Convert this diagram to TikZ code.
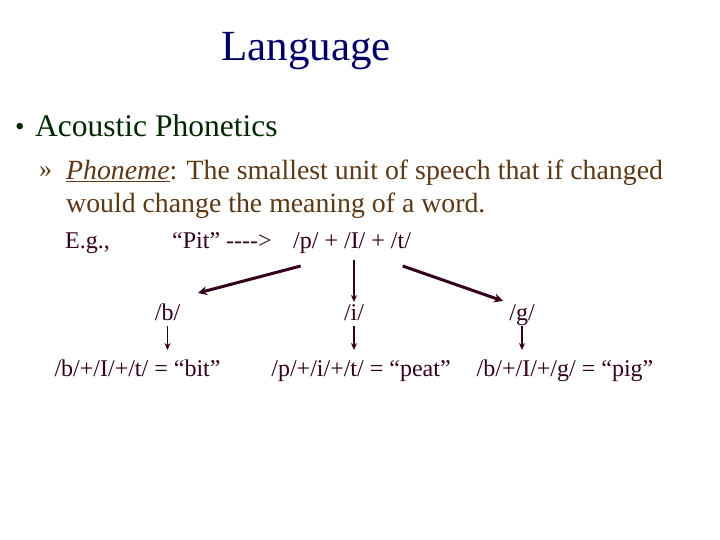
\documentclass[tikz,border=0pt]{standalone}
\usepackage{fontspec}
\setmainfont{Liberation Serif}[Ligatures=NoCommon]
\usetikzlibrary{arrows.meta}
\definecolor{navy}{RGB}{0,0,102}
\definecolor{dgreen}{RGB}{0,40,0}
\definecolor{brownish}{RGB}{92,56,20}
\definecolor{maroon}{RGB}{51,0,30}
\tikzset{
  txt/.style={inner sep=0pt, anchor=base west, text=maroon, font=\fontsize{24}{28}\selectfont},
  ctxt/.style={inner sep=0pt, anchor=base, text=maroon, font=\fontsize{24}{28}\selectfont},
  thin arr/.style={draw=maroon, line width=1.2pt, -{Stealth[length=7pt,width=6pt]}},
  thick arr/.style={draw=maroon, line width=3pt, -{Stealth[length=9pt,width=9pt]}},
}
\begin{document}
\begin{tikzpicture}[x=1pt,y=-1pt]
\useasboundingbox[fill=white] (0,0) rectangle (720,540);
\node[inner sep=0pt, anchor=base west, text=navy, font=\fontsize{43}{48}\selectfont] (title) at (221,61) {Language};
\node[inner sep=0pt, anchor=base west, text=dgreen, font=\fontsize{27}{30}\selectfont] (bul) at (15,136) {•};
\node[inner sep=0pt, anchor=base west, text=dgreen, font=\fontsize{31.5}{36}\selectfont] (ac) at (35,137) {Acoustic Phonetics};
\node[inner sep=0pt, anchor=base west, text=brownish, font=\fontsize{26}{30}\selectfont] (guil) at (39,178) {»};
\node[inner sep=0pt, anchor=base west, text=brownish, font=\fontsize{27.8}{33}\selectfont] (ph) at (66,180) {\underline{\textit{Phoneme}}: The smallest unit of speech that if changed};
\node[inner sep=0pt, anchor=base west, text=brownish, font=\fontsize{27.8}{33}\selectfont] (ph2) at (66,212) {would change the meaning of a word.};
\node[txt] (eg) at (65,248) {E.g.,};
\node[txt] (pit) at (172,248) {“Pit” {-}{-}{-}{-}>};
\node[txt] (ptt) at (293,248) {/p/ + /I/ + /t/};
\coordinate (c1) at (300.7,266);
\coordinate (c2) at (354,260);
\coordinate (c3) at (402.7,266);
\node[ctxt] (b) at (167.5,320) {/b/};
\node[ctxt] (i) at (354,320) {/i/};
\node[ctxt] (g) at (522,320) {/g/};
\coordinate (b1) at (198,293);
\coordinate (i1) at (354,302);
\coordinate (g1) at (503,301);
\node[ctxt] (bit) at (137.5,376) {/b/+/I/+/t/ = “bit”};
\node[ctxt] (peat) at (361,376) {/p/+/i/+/t/ = “peat”};
\node[ctxt] (pig) at (565,376) {/b/+/I/+/g/ = “pig”};
\draw[thick arr] (c1) -- (b1);
\draw[thin arr] (c2) -- (i1);
\draw[thick arr] (c3) -- (g1);
\draw[thin arr] (b.south |- 0,326) -- (b.south |- 0,350);
\draw[thin arr] (i.south |- 0,326) -- (i.south |- 0,350);
\draw[thin arr] (g.south |- 0,326) -- (g.south |- 0,350);
\end{tikzpicture}
\end{document}
